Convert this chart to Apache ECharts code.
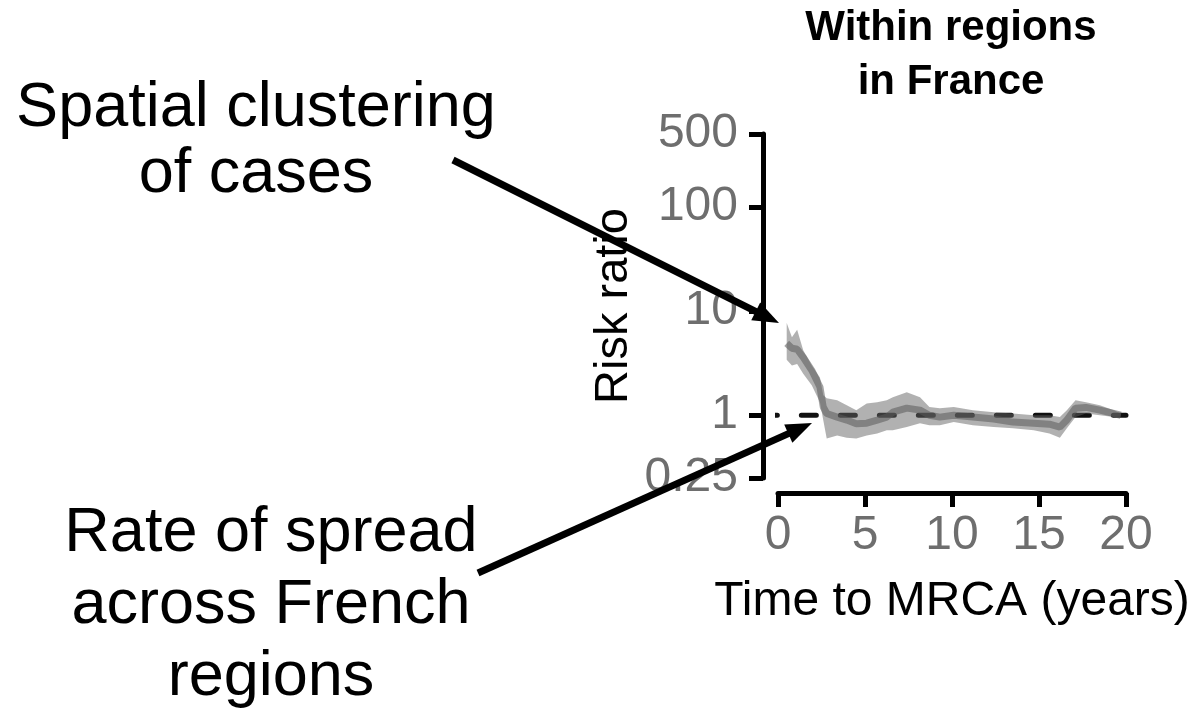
<!DOCTYPE html>
<html><head><meta charset="utf-8">
<script src="https://cdn.jsdelivr.net/npm/echarts@6/dist/echarts.min.js"></script>
<style>html,body{margin:0;padding:0;background:#fff}#c{width:1194px;height:724px}</style>
</head><body><div id="c"></div>
<script>
// Time to MRCA (years)
const years  = [0.5, 0.8, 1.1, 1.45, 1.94, 2.41, 2.6, 2.8, 3.4, 3.95, 4.5, 5.1, 5.7, 6.25, 6.6, 7.4, 8.16, 8.7, 9.3, 10.1, 11.2, 12.4, 13.5, 14.7, 15.6, 16.2, 16.6, 17.1, 17.7, 18.5, 19.3, 19.7];
// Risk ratio: point estimate and confidence band
const meanRR  = [4.9, 4.4, 4.3, 3.6, 2.7, 1.87, 1.2, 1.04, 0.96, 0.9, 0.83, 0.84, 0.9, 0.96, 1.07, 1.17, 1.12, 1.0, 0.96, 1.0, 0.96, 0.92, 0.86, 0.84, 0.82, 0.77, 0.9, 1.17, 1.19, 1.12, 1.04, 1.0];
const lowerRR = [3.4, 3.0, 3.1, 2.5, 1.94, 1.33, 0.9, 0.6, 0.64, 0.61, 0.6, 0.64, 0.67, 0.72, 0.72, 0.77, 0.84, 0.8, 0.8, 0.86, 0.8, 0.77, 0.75, 0.72, 0.67, 0.61, 0.75, 0.96, 1.04, 1.0, 0.96, 0.97];
const upperRR = [7.7, 5.6, 6.6, 4.2, 3.0, 2.3, 1.56, 1.46, 1.39, 1.25, 1.12, 1.3, 1.33, 1.39, 1.49, 1.66, 1.49, 1.2, 1.17, 1.2, 1.12, 1.07, 1.04, 1.0, 1.0, 0.96, 1.12, 1.39, 1.33, 1.25, 1.12, 1.04];
// reference line at risk ratio = 1
const refX = [-0.9, 20];
const refY = [1, 1];
// tick labels
const xTicks = [0, 5, 10, 15, 20];
const yTicks = [0.25, 1, 10, 100, 500];

const FONT = "'Liberation Sans', Arial, sans-serif";

function arrow(x1, y1, x2, y2, len, half, w) {
  const dx = x2 - x1, dy = y2 - y1, L = Math.hypot(dx, dy);
  const ux = dx / L, uy = dy / L, nx = -uy, ny = ux;
  const bx = x2 - ux * len, by = y2 - uy * len;
  return [
    { type: 'line', z: 100, shape: { x1: x1, y1: y1, x2: bx + ux * 2, y2: by + uy * 2 },
      style: { stroke: '#000', lineWidth: w } },
    { type: 'polygon', z: 100, shape: { points: [[x2, y2], [bx + nx * half, by + ny * half], [bx - nx * half, by - ny * half]] },
      style: { fill: '#000' } }
  ];
}

const chart = echarts.init(document.getElementById('c'), null, { renderer: 'canvas' });
chart.setOption({
  animation: false,
  backgroundColor: '#fff',
  grid: { left: 778, right: 68, top: 134, bottom: 246, containLabel: false },
  xAxis: {
    type: 'value', min: 0, max: 20, interval: 5, offset: 15,
    axisLine: { show: true, onZero: false, lineStyle: { color: '#000', width: 5 } },
    axisTick: { show: true, length: 14, lineStyle: { color: '#000', width: 5 } },
    axisLabel: { fontSize: 48, color: '#6e6e6e', margin: 19, fontFamily: FONT, customValues: xTicks },
    splitLine: { show: false },
    name: 'Time to MRCA (years)', nameLocation: 'middle', nameGap: 85,
    nameTextStyle: { fontSize: 48, color: '#000', fontFamily: FONT }
  },
  yAxis: {
    type: 'log', logBase: 10, min: 0.25, max: 500, offset: 15,
    axisLine: { show: true, onZero: false, lineStyle: { color: '#000', width: 5 } },
    axisTick: { show: true, length: 14, lineStyle: { color: '#000', width: 5 }, customValues: yTicks },
    axisLabel: { fontSize: 48, color: '#6e6e6e', margin: 25, fontFamily: FONT, customValues: yTicks,
      formatter: v => String(+Number(v).toPrecision(6)) },
    splitLine: { show: false },
    name: 'Risk ratio', nameLocation: 'middle', nameGap: 125, nameRotate: 90,
    nameTextStyle: { fontSize: 47, color: '#000', fontFamily: FONT }
  },
  series: [
    {
      type: 'line', z: 1, clip: false, showSymbol: false, silent: true,
      data: refX.map((x, i) => [x, refY[i]]),
      lineStyle: { color: '#111', width: 5, type: [15, 24], cap: 'round' }
    },
    {
      type: 'custom', z: 2, clip: false, silent: true,
      data: [[years[0], meanRR[0]]],
      renderItem: function (params, api) {
        const pts = [];
        for (let i = 0; i < years.length; i++) pts.push(api.coord([years[i], upperRR[i]]));
        for (let i = years.length - 1; i >= 0; i--) pts.push(api.coord([years[i], lowerRR[i]]));
        return { type: 'polygon', shape: { points: pts }, style: { fill: 'rgba(100,100,100,0.5)', stroke: null } };
      }
    },
    {
      type: 'line', z: 3, showSymbol: false, silent: true,
      data: years.map((x, i) => [x, meanRR[i]]),
      lineStyle: { color: 'rgba(90,90,90,0.55)', width: 7 }
    }
  ],
  graphic: [
    { type: 'text', z: 100, style: { text: 'Within regions\nin France', x: 951, y: 1, textAlign: 'center', textVerticalAlign: 'top',
      font: "bold 42px " + FONT, lineHeight: 54, fill: '#000' } },
    { type: 'text', z: 100, style: { text: 'Spatial clustering\nof cases', x: 256, y: 76, textAlign: 'center', textVerticalAlign: 'top',
      font: "63px " + FONT, lineHeight: 66, fill: '#000' } },
    { type: 'text', z: 100, style: { text: 'Rate of spread\nacross French\nregions', x: 271, y: 498, textAlign: 'center', textVerticalAlign: 'top',
      font: "63px " + FONT, lineHeight: 72, fill: '#000' } }
  ].concat(arrow(453, 160, 779, 323, 26, 10, 7)).concat(arrow(478, 573, 812, 423, 26, 10, 7))
});
</script>
</body></html>
